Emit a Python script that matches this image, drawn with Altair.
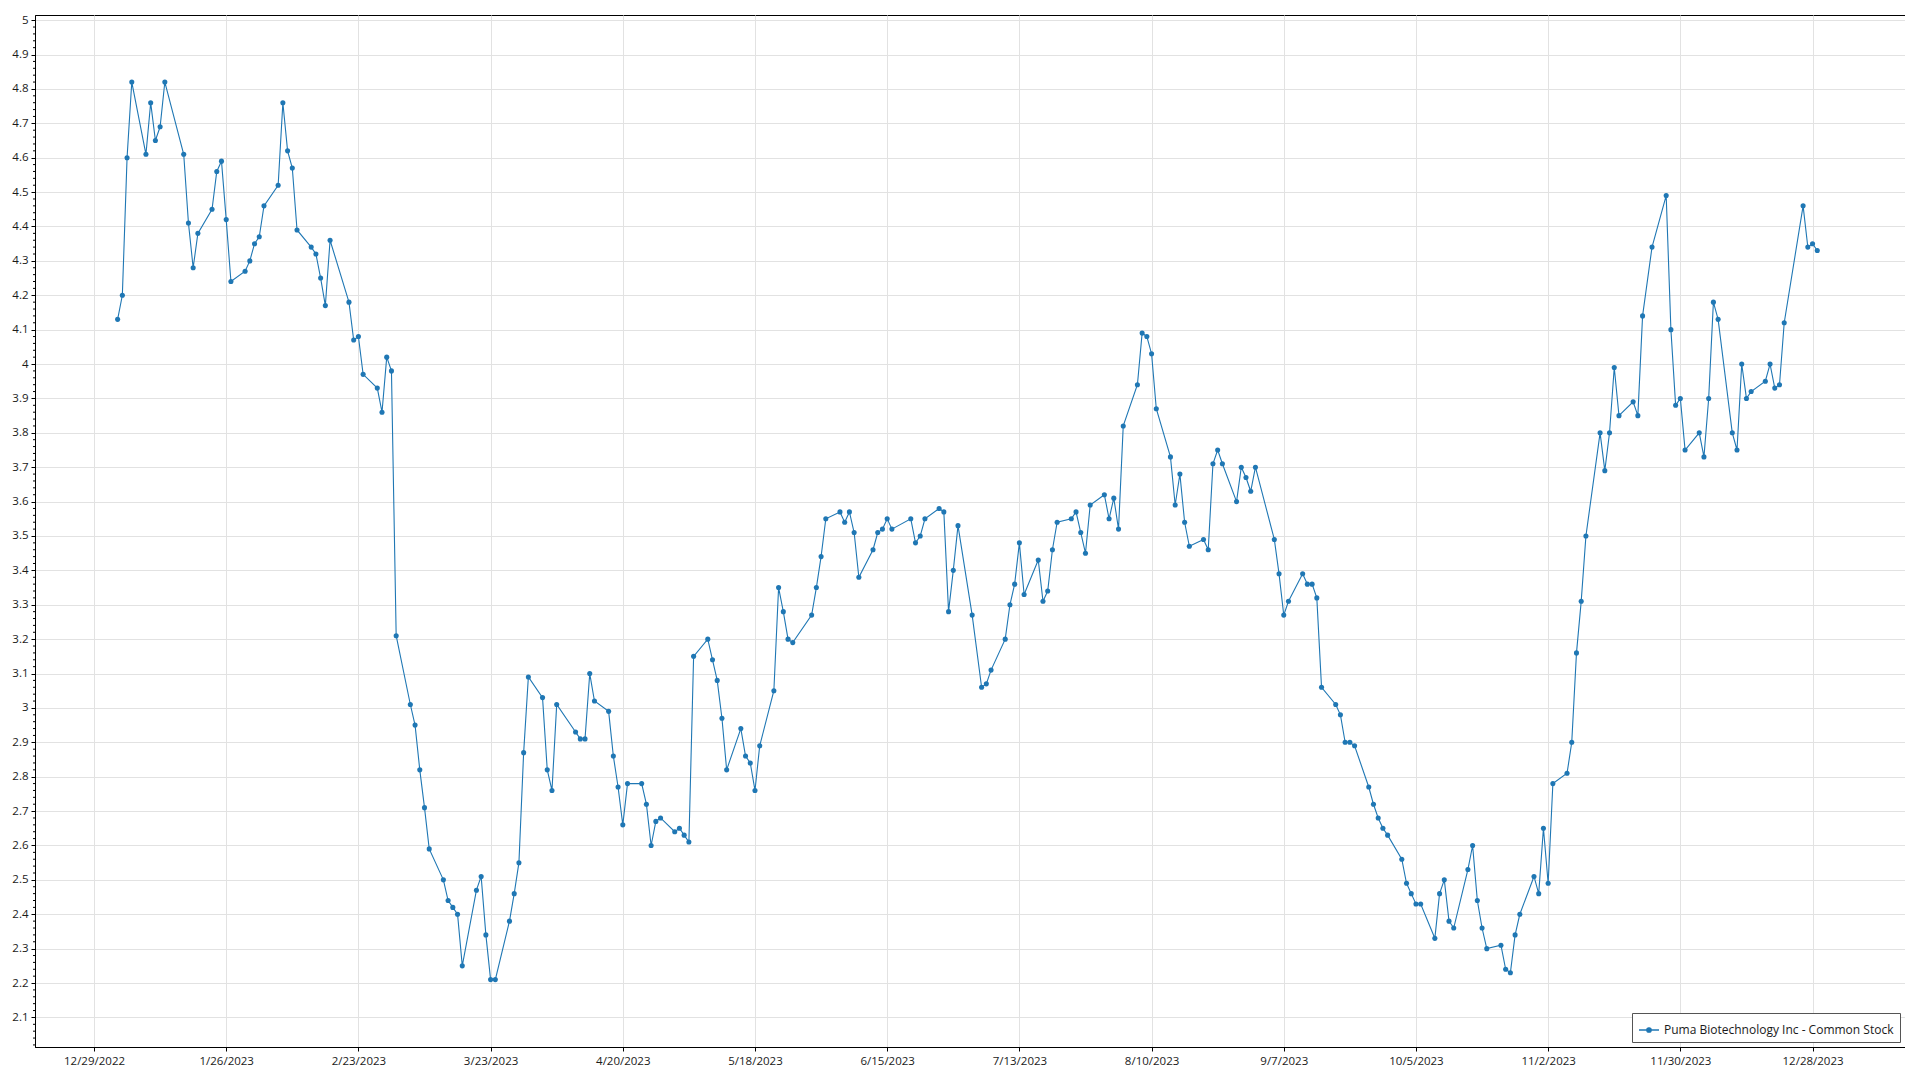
import altair as alt
import pandas as pd

SERIES = "Puma Biotechnology Inc - Common Stock"

# Trading days of 2023 (day-of-month per month)
jan_days = [3, 4, 5, 6, 9, 10, 11, 12, 13, 17, 18, 19, 20, 23, 24, 25, 26, 27, 30, 31]
feb_days = [1, 2, 3, 6, 7, 8, 9, 10, 13, 14, 15, 16, 17, 21, 22, 23, 24, 27, 28]
mar_days = [1, 2, 3, 6, 7, 8, 9, 10, 13, 14, 15, 16, 17, 20, 21, 22, 23, 24, 27, 28, 29, 30, 31]
apr_days = [3, 4, 5, 6, 10, 11, 12, 13, 14, 17, 18, 19, 20, 21, 24, 25, 26, 27, 28]
may_days = [1, 2, 3, 4, 5, 8, 9, 10, 11, 12, 15, 16, 17, 18, 19, 22, 23, 24, 25, 26, 30, 31]
jun_days = [1, 2, 5, 6, 7, 8, 9, 12, 13, 14, 15, 16, 20, 21, 22, 23, 26, 27, 28, 29, 30]
jul_days = [3, 5, 6, 7, 10, 11, 12, 13, 14, 17, 18, 19, 20, 21, 24, 25, 26, 27, 28, 31]
aug_days = [1, 2, 3, 4, 7, 8, 9, 10, 11, 14, 15, 16, 17, 18, 21, 22, 23, 24, 25, 28, 29, 30, 31]
sep_days = [1, 5, 6, 7, 8, 11, 12, 13, 14, 15, 18, 19, 20, 21, 22, 25, 26, 27, 28, 29]
oct_days = [2, 3, 4, 5, 6, 9, 10, 11, 12, 13, 16, 17, 18, 19, 20, 23, 24, 25, 26, 27, 30, 31]
nov_days = [1, 2, 3, 6, 7, 8, 9, 10, 13, 14, 15, 16, 17, 20, 21, 22, 24, 27, 28, 29, 30]
dec_days = [1, 4, 5, 6, 7, 8, 11, 12, 13, 14, 15, 18, 19, 20, 21, 22, 26, 27, 28, 29]

# Closing prices per month
jan_px = [4.13, 4.20, 4.60, 4.82, 4.61, 4.76, 4.65, 4.69, 4.82, 4.61, 4.41, 4.28, 4.38, 4.45, 4.56, 4.59, 4.42, 4.24, 4.27, 4.30]
feb_px = [4.35, 4.37, 4.46, 4.52, 4.76, 4.62, 4.57, 4.39, 4.34, 4.32, 4.25, 4.17, 4.36, 4.18, 4.07, 4.08, 3.97, 3.93, 3.86]
mar_px = [4.02, 3.98, 3.21, 3.01, 2.95, 2.82, 2.71, 2.59, 2.50, 2.44, 2.42, 2.40, 2.25, 2.47, 2.51, 2.34, 2.21, 2.21, 2.38, 2.46, 2.55, 2.87, 3.09]
apr_px = [3.03, 2.82, 2.76, 3.01, 2.93, 2.91, 2.91, 3.10, 3.02, 2.99, 2.86, 2.77, 2.66, 2.78, 2.78, 2.72, 2.60, 2.67, 2.68]
may_px = [2.64, 2.65, 2.63, 2.61, 3.15, 3.20, 3.14, 3.08, 2.97, 2.82, 2.94, 2.86, 2.84, 2.76, 2.89, 3.05, 3.35, 3.28, 3.20, 3.19, 3.27, 3.35]
jun_px = [3.44, 3.55, 3.57, 3.54, 3.57, 3.51, 3.38, 3.46, 3.51, 3.52, 3.55, 3.52, 3.55, 3.48, 3.50, 3.55, 3.58, 3.57, 3.28, 3.40, 3.53]
jul_px = [3.27, 3.06, 3.07, 3.11, 3.20, 3.30, 3.36, 3.48, 3.33, 3.43, 3.31, 3.34, 3.46, 3.54, 3.55, 3.57, 3.51, 3.45, 3.59, 3.62]
aug_px = [3.55, 3.61, 3.52, 3.82, 3.94, 4.09, 4.08, 4.03, 3.87, 3.73, 3.59, 3.68, 3.54, 3.47, 3.49, 3.46, 3.71, 3.75, 3.71, 3.60, 3.70, 3.67, 3.63]
sep_px = [3.70, 3.49, 3.39, 3.27, 3.31, 3.39, 3.36, 3.36, 3.32, 3.06, 3.01, 2.98, 2.90, 2.90, 2.89, 2.77, 2.72, 2.68, 2.65, 2.63]
oct_px = [2.56, 2.49, 2.46, 2.43, 2.43, 2.33, 2.46, 2.50, 2.38, 2.36, 2.53, 2.60, 2.44, 2.36, 2.30, 2.31, 2.24, 2.23, 2.34, 2.40, 2.51, 2.46]
nov_px = [2.65, 2.49, 2.78, 2.81, 2.90, 3.16, 3.31, 3.50, 3.80, 3.69, 3.80, 3.99, 3.85, 3.89, 3.85, 4.14, 4.34, 4.49, 4.10, 3.88, 3.90]
dec_px = [3.75, 3.80, 3.73, 3.90, 4.18, 4.13, 3.80, 3.75, 4.00, 3.90, 3.92, 3.95, 4.00, 3.93, 3.94, 4.12, 4.46, 4.34, 4.35, 4.33]

# Axis tick labels
x_ticks = ["2022-12-29", "2023-01-26", "2023-02-23", "2023-03-23", "2023-04-20", "2023-05-18",
           "2023-06-15", "2023-07-13", "2023-08-10", "2023-09-07", "2023-10-05", "2023-11-02",
           "2023-11-30", "2023-12-28"]
y_ticks = [2.1, 2.2, 2.3, 2.4, 2.5, 2.6, 2.7, 2.8, 2.9, 3.0, 3.1, 3.2, 3.3, 3.4, 3.5, 3.6,
           3.7, 3.8, 3.9, 4.0, 4.1, 4.2, 4.3, 4.4, 4.5, 4.6, 4.7, 4.8, 4.9, 5.0]

months = [jan_days, feb_days, mar_days, apr_days, may_days, jun_days,
          jul_days, aug_days, sep_days, oct_days, nov_days, dec_days]
prices = [jan_px, feb_px, mar_px, apr_px, may_px, jun_px,
          jul_px, aug_px, sep_px, oct_px, nov_px, dec_px]

rows = []
for m, (dlist, plist) in enumerate(zip(months, prices), start=1):
    for d, p in zip(dlist, plist):
        rows.append({"date": f"2023-{m:02d}-{d:02d}T00:00:00", "price": p, "series": SERIES})
df = pd.DataFrame(rows)

# minor ticks on the y axis (4 between each labelled tick)
minor = [round(y - 0.1 + 0.02 * k, 2) for y in y_ticks for k in range(1, 5)]
minor_df = pd.DataFrame({"price": minor})

FONT = "Open Sans"
BLUE = "#1f77b4"

y_scale = alt.Scale(domain=[2.014, 5.015], nice=False, zero=False)
x_scale = alt.Scale(domain=[alt.DateTime(year=2022, month=12, date=16, hours=12),
                            alt.DateTime(year=2024, month=1, date=16, hours=14)], nice=False)

x_axis = alt.Axis(
    values=[alt.DateTime(year=int(s[:4]), month=int(s[5:7]), date=int(s[8:10])) for s in x_ticks],
    format="%-m/%-d/%Y", title=None, grid=True, gridColor="#e2e2e2",
    tickSize=4, tickColor="black", domainColor="black", labelPadding=4,
    labelFont=FONT, labelFontSize=11.5, labelColor="#1a1a1a", labelFlush=False, labelOverlap=False,
)
y_axis = alt.Axis(
    values=y_ticks, format=".2~f", title=None, grid=True, gridColor="#e2e2e2",
    tickSize=4, tickColor="black", domainColor="black", labelPadding=3,
    labelFont=FONT, labelFontSize=11.5, labelColor="#1a1a1a", labelFlush=False, labelOverlap=False,
)

legend = alt.Legend(
    title=None, orient="bottom-right", offset=5,
    fillColor="white", strokeColor="#555555", padding=6, labelLimit=0,
    labelFont=FONT, labelFontSize=12, labelColor="#1a1a1a",
    symbolType="M-1,0L1,0M-0.22,0A0.22,0.22,0,1,1,0.22,0A0.22,0.22,0,1,1,-0.22,0Z",
    symbolSize=400, symbolStrokeWidth=1.3, symbolFillColor=BLUE, symbolStrokeColor=BLUE,
)

color = alt.Color("series:N", scale=alt.Scale(domain=[SERIES], range=[BLUE]), legend=legend)
X = alt.X("date:T", scale=x_scale, axis=x_axis)
Y = alt.Y("price:Q", scale=y_scale, axis=y_axis)

line = alt.Chart(df).mark_line(strokeWidth=1.1, color=BLUE).encode(x=X, y=Y, color=color)
pts = alt.Chart(df).mark_circle(size=26, opacity=1, color=BLUE).encode(x=X, y=Y, color=color)
minor_ticks = alt.Chart(minor_df).mark_rule(color="black", strokeWidth=1).encode(
    x=alt.value(-2), x2=alt.value(0), y=Y,
)

chart = alt.layer(line, pts, minor_ticks).properties(
    width=1870, height=1032,
    padding={"left": 3, "top": 6, "right": 0, "bottom": 0},
    background="white",
).configure_view(stroke="black", strokeWidth=1)

chart.save("out.html", embed_options={"renderer": "svg", "actions": False})
